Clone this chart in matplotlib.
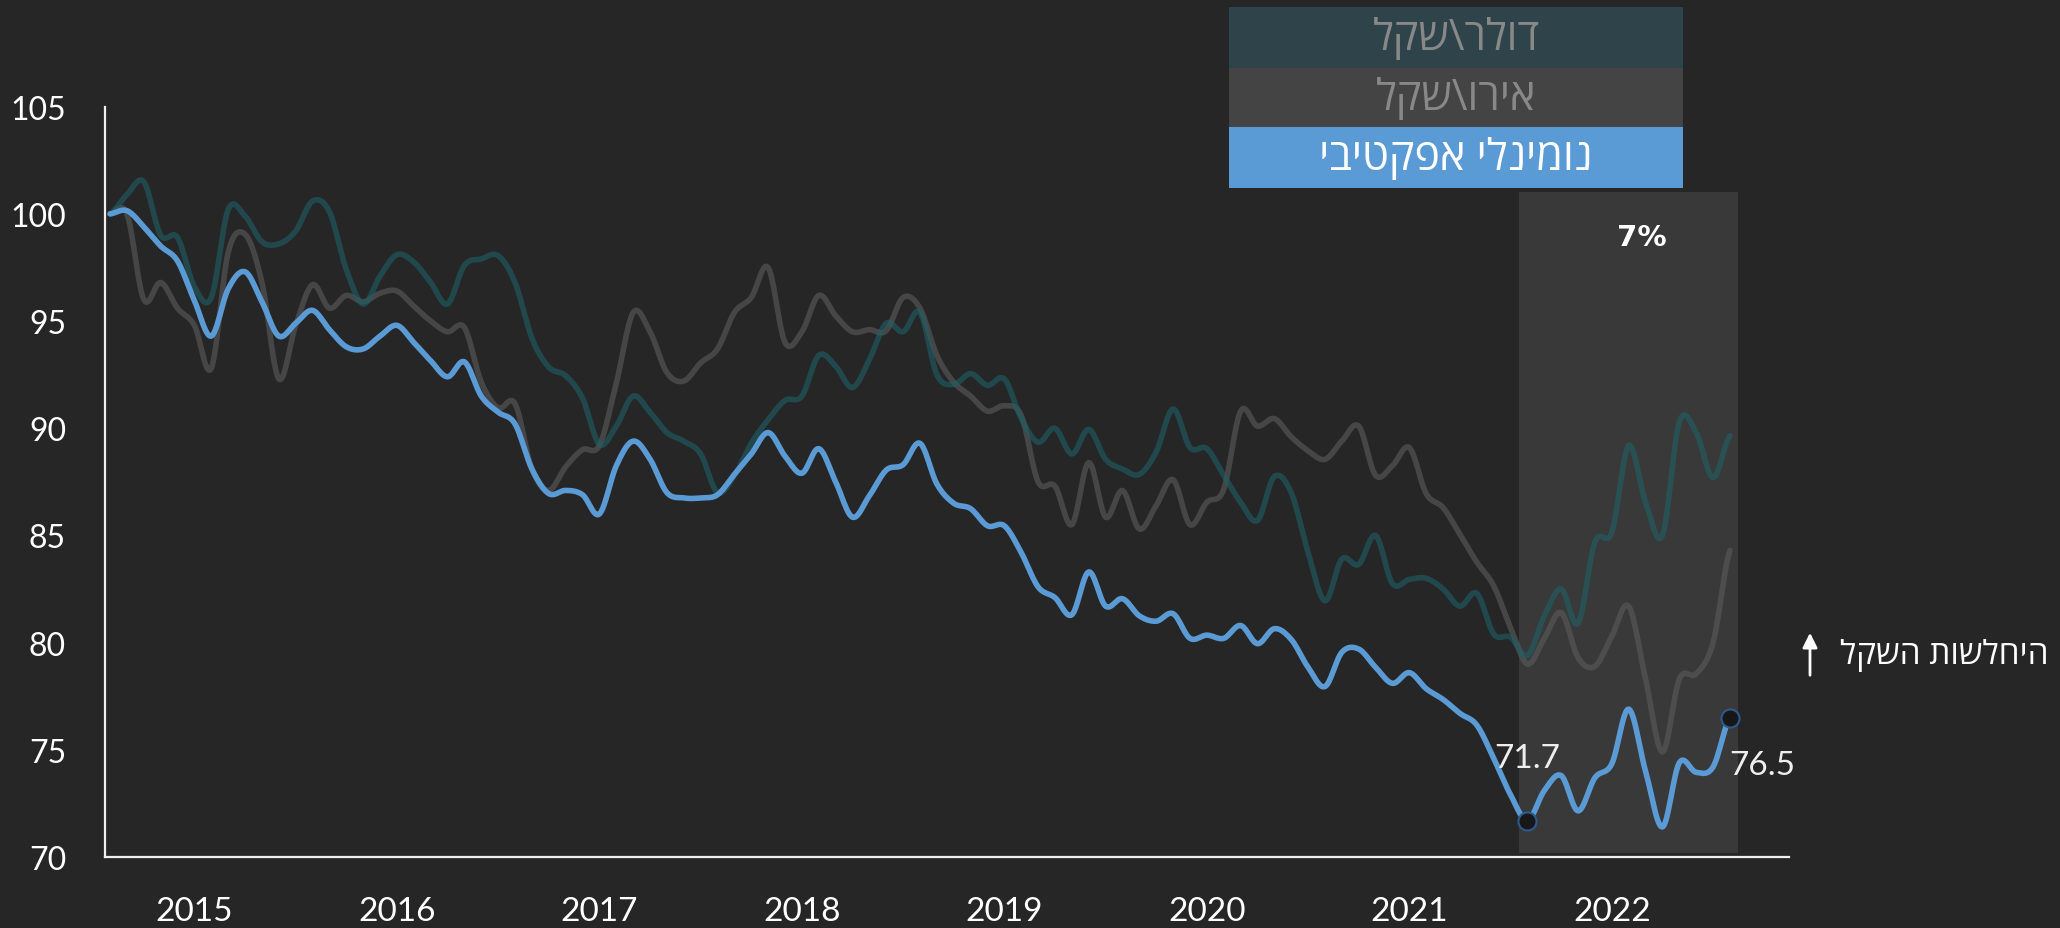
import numpy as np
import matplotlib
matplotlib.use('Agg')
import matplotlib.pyplot as plt
from matplotlib.patches import Rectangle

# monthly index values, Jan 2015 = 100
years = ['2015', '2016', '2017', '2018', '2019', '2020', '2021', '2022']

nominal = [100.0, 100.15, 99.4, 98.5, 97.8, 95.95, 94.3, 96.5, 97.3, 95.9, 94.3, 94.9,
           95.5, 94.6, 93.8, 93.7, 94.3, 94.8, 94.0, 93.15, 92.4, 93.1, 91.5, 90.75,
           90.2, 88.1, 86.95, 87.1, 86.9, 86.0, 88.25, 89.4, 88.56, 87.0, 86.75, 86.75,
           86.9, 87.85, 88.8, 89.8, 88.7, 87.9, 89.05, 87.5, 85.85, 86.85, 88.05, 88.3,
           89.3, 87.4, 86.5, 86.25, 85.45, 85.45, 84.2, 82.6, 82.1, 81.3, 83.3, 81.7,
           82.05, 81.25, 81.0, 81.35, 80.2, 80.35, 80.2, 80.8, 79.95, 80.65, 80.15, 78.85,
           77.95, 79.55, 79.7, 78.85, 78.1, 78.6, 77.85, 77.35, 76.7, 76.15, 74.6, 72.9,
           71.7, 73.1, 73.8, 72.15, 73.7, 74.35, 76.9, 74.0, 71.4, 74.4, 73.95, 74.2,
           76.5]

usd_ils = [100.0, 100.9, 101.5, 99.0, 98.9, 96.6, 96.1, 100.2, 99.9, 98.7, 98.6, 99.2,
           100.6, 100.1, 97.4, 95.8, 97.1, 98.1, 97.75, 96.8, 95.8, 97.6, 97.9, 98.05,
           96.8, 94.2, 92.85, 92.45, 91.4, 89.25, 90.1, 91.5, 90.75, 89.8, 89.4, 88.8,
           87.0, 87.8, 89.3, 90.4, 91.3, 91.5, 93.4, 92.9, 91.9, 93.2, 94.9, 94.5,
           95.4, 92.5, 92.05, 92.55, 92.0, 92.3, 90.45, 89.35, 90.0, 88.8, 89.95, 88.55,
           88.1, 87.85, 88.9, 90.9, 89.1, 89.05, 87.8, 86.55, 85.7, 87.75, 87.0, 84.2,
           81.95, 83.9, 83.65, 85.0, 82.75, 82.95, 83.0, 82.5, 81.7, 82.3, 80.4, 80.25,
           79.4, 81.25, 82.5, 80.9, 84.7, 85.15, 89.2, 86.55, 85.0, 90.3, 89.8, 87.7,
           89.65]

eur_ils = [100.0, 100.0, 96.0, 96.8, 95.6, 94.8, 92.8, 98.2, 99.05, 96.8, 92.3, 94.8,
           96.7, 95.6, 96.2, 95.9, 96.3, 96.4, 95.7, 95.0, 94.5, 94.7, 92.15, 90.95,
           91.15, 88.1, 87.1, 88.2, 89.0, 89.2, 92.1, 95.4, 94.5, 92.6, 92.2, 93.05,
           93.7, 95.4, 96.1, 97.5, 94.0, 94.5, 96.2, 95.25, 94.5, 94.6, 94.55, 96.1,
           95.6, 93.4, 92.15, 91.5, 90.8, 91.05, 90.6, 87.5, 87.3, 85.5, 88.4, 85.85,
           87.1, 85.3, 86.4, 87.6, 85.5, 86.55, 87.15, 90.8, 90.1, 90.45, 89.6, 88.95,
           88.55, 89.4, 90.1, 87.8, 88.25, 89.1, 86.95, 86.3, 85.05, 83.75, 82.65, 80.7,
           79.0, 80.2, 81.4, 79.3, 78.9, 80.3, 81.7, 78.3, 74.9, 78.3, 78.55, 80.0,
           84.3]

LOW_IDX = 84  # Jan 2022, strongest shekel

# hebrew labels (logical order)
lbl_usd = 'דולר\\שקל'
lbl_eur = 'אירו\\שקל'
lbl_nom = 'נומינלי אפקטיבי'
lbl_weak = 'היחלשות השקל'

BG = '#262626'
BLUE = '#5b9bd5'
HEB = ['Open Sans', 'DejaVu Sans']
NUM = ['Lato', 'DejaVu Sans']


def rtl(s):
    # matplotlib has no bidi, flip hebrew by hand
    return s[::-1]


def smooth(y, k=12):
    # catmull-rom through the monthly points (excel style smoothed line)
    y = np.asarray(y, float)
    p = np.concatenate([[y[0]], y, [y[-1]]])
    t = np.linspace(0, 1, k, endpoint=False)
    xs, ys = [], []
    for j in range(len(y) - 1):
        p0, p1, p2, p3 = p[j], p[j + 1], p[j + 2], p[j + 3]
        seg = 0.5 * ((2 * p1) + (-p0 + p2) * t + (2 * p0 - 5 * p1 + 4 * p2 - p3) * t**2
                     + (-p0 + 3 * p1 - 3 * p2 + p3) * t**3)
        xs.append(j + t)
        ys.append(seg)
    xs.append([len(y) - 1])
    ys.append([y[-1]])
    return np.concatenate(xs), np.concatenate(ys)


fig = plt.figure(figsize=(20.6, 9.29), dpi=100, facecolor=BG)
ax = fig.add_axes([105 / 2060, 1 - 858 / 929, (1789 - 105) / 2060, (858 - 107.7) / 929])
ax.set_facecolor(BG)

n = len(nominal)
ax.add_patch(Rectangle((LOW_IDX - 0.5, 70.2), n - LOW_IDX, 101.0 - 70.2,
                       facecolor='#393939', edgecolor='none', zorder=0))

x, y = smooth(eur_ils)
ax.plot(x, y, color='#5c5c5c', lw=4, alpha=0.6, solid_capstyle='round', zorder=2)
x, y = smooth(usd_ils)
ax.plot(x, y, color='#1f6066', lw=4, alpha=0.6, solid_capstyle='round', zorder=3)
x, y = smooth(nominal)
ax.plot(x, y, color=BLUE, lw=4, solid_capstyle='round', zorder=4)

for idx in (LOW_IDX, n - 1):
    ax.plot([idx], [nominal[idx]], 'o', ms=13, mfc='#171717', mec='#2b5a8c', mew=1.5, zorder=5)

ax.text(LOW_IDX, nominal[LOW_IDX] + 2.9, f'{nominal[LOW_IDX]:.1f}', ha='center', va='center',
        color='#eeeeee', fontsize=24, family=NUM, zorder=6)
ax.text(n + 0.9, nominal[-1] - 2.2, f'{nominal[-1]:.1f}', ha='center', va='center',
        color='#eeeeee', fontsize=24, family=NUM, zorder=6)

chg = (nominal[-1] / nominal[LOW_IDX] - 1) * 100
ax.text((LOW_IDX + n - 1) / 2 + 0.75, 98.9, f'{chg:.0f}%', ha='center', va='center',
        color='white', fontsize=21, fontweight='black', family='DejaVu Sans', zorder=6)

ax.set_xlim(-0.3, 99.5)
ax.set_ylim(70, 105)
ax.set_yticks(range(70, 106, 5))
ax.set_xticks([12 * k + 5 for k in range(len(years))])
ax.set_xticklabels(years)
ax.tick_params(length=0, colors='white', labelsize=24)
ax.tick_params(axis='y', pad=28, labelsize=23)
ax.tick_params(axis='x', pad=28)
for lab in ax.get_xticklabels() + ax.get_yticklabels():
    lab.set_family(NUM)

for s in ('top', 'right'):
    ax.spines[s].set_visible(False)
for s in ('left', 'bottom'):
    ax.spines[s].set_color('#f0f0f0')
    ax.spines[s].set_linewidth(1.6)

# legend boxes on top
bx, bw = 1229 / 2060, (1683 - 1229) / 2060
boxes = [(lbl_usd, '#2e434a', '#888888', 8, 68.5),
         (lbl_eur, '#444444', '#888888', 68.5, 128),
         (lbl_nom, BLUE, 'white', 128, 188.5)]
for txt, fc, tc, top, bot in boxes:
    fig.add_artist(Rectangle((bx, 1 - bot / 929), bw, (bot - top) / 929,
                             transform=fig.transFigure, facecolor=fc, edgecolor='none'))
    fig.text(bx + bw / 2, 1 - (top + bot) / 2 / 929, rtl(txt), ha='center', va='center',
             color=tc, fontsize=31, family=HEB)

# weakening arrow note
fig.text(1944 / 2060, 1 - 655 / 929, rtl(lbl_weak), ha='center', va='center',
         color='white', fontsize=24, family=HEB)
ax.annotate('', xy=(1810 / 2060, 1 - 631 / 929), xytext=(1810 / 2060, 1 - 679 / 929),
            xycoords='figure fraction', textcoords='figure fraction',
            arrowprops=dict(arrowstyle='-|>', color='white', lw=2, mutation_scale=22))

fig.savefig('out.png', dpi=100, facecolor=BG)
